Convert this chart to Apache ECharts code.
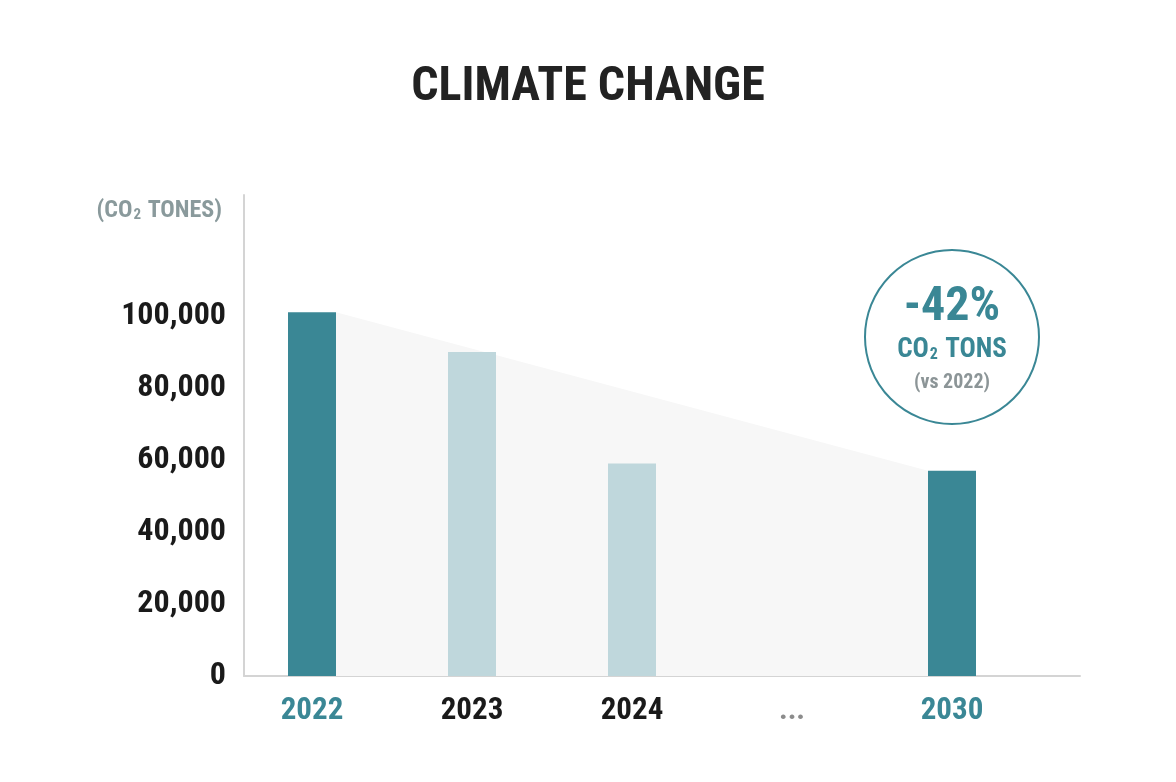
<!DOCTYPE html>
<html>
<head>
<meta charset="utf-8">
<script src="https://cdn.jsdelivr.net/npm/echarts@6/dist/echarts.min.js"></script>
<style>html,body{margin:0;padding:0;background:#fff;}#c{width:1176px;height:782px;}</style>
</head>
<body>
<div id="c"></div>
<script>
const categories = ['2022', '2023', '2024', '...', '2030'];
const values = [101000, 90000, 59000, null, 57000];
const yTicks = [0, 20000, 40000, 60000, 80000, 100000];
const highlight = [true, false, false, false, true];
const changeLabel = '-42%';
const changeBase = '2022';

const FONT = "'Roboto Condensed', 'Liberation Sans Narrow', 'Arial Narrow', Roboto, sans-serif";
const DARK = '#3a8795';
const LIGHT = '#bfd7dc';
const labelColors = ['#3a8795', '#1a1a1a', '#1a1a1a', '#8c8c8c', '#3a8795'];
const BAR_W = 48, BAND = 160;
const half = BAR_W / BAND / 2;

const barData = values.map((v, i) => v == null ? null : [i, v]);
const first = 0, last = values.length - 1;
const shadeData = [[first + half, values[first]], [last - half, values[last]]];

const chart = echarts.init(document.getElementById('c'), null, {renderer: 'canvas'});
chart.setOption({
  backgroundColor: '#ffffff',
  animation: false,
  title: {
    text: 'CLIMATE CHANGE', left: 'center', top: 59,
    textStyle: {fontFamily: FONT, fontSize: 48, fontWeight: 'bold', color: '#222222'}
  },
  grid: {left: 244, right: 96, top: 195, bottom: 106},
  xAxis: {
    type: 'value', min: -0.425, max: 4.8,
    axisLine: {show: true, onZero: false, lineStyle: {color: '#d4d4d4', width: 2}},
    axisTick: {show: false}, splitLine: {show: false},
    axisLabel: {
      customValues: categories.map((c, i) => i),
      margin: 20,
      formatter: v => '{c' + v + '|' + categories[v] + '}',
      rich: Object.fromEntries(categories.map((c, i) => ['c' + i, {
        fontFamily: FONT, fontWeight: 'bold', fontSize: c === '...' ? 30 : 31, color: labelColors[i]
      }]))
    }
  },
  yAxis: {
    type: 'value', min: 0, max: 133600, interval: 20000,
    name: '{a|(CO}{s|2}{a| TONES)}',
    nameLocation: 'end', nameGap: -16,
    nameTextStyle: {align: 'right', verticalAlign: 'middle', padding: [0, 22, 0, 0],
      rich: {
        a: {fontFamily: FONT, fontWeight: 'bold', fontSize: 24, color: '#8a9a9c'},
        s: {fontFamily: FONT, fontWeight: 'bold', fontSize: 15, color: '#8a9a9c', padding: [8, 1, 0, 1]}
      }},
    axisLine: {show: true, onZero: false, lineStyle: {color: '#d4d4d4', width: 2}},
    axisTick: {show: false}, splitLine: {show: false},
    axisLabel: {
      customValues: yTicks, margin: 18,
      formatter: v => v.toLocaleString('en-US'),
      fontFamily: FONT, fontWeight: 'bold', fontSize: 32, color: '#1a1a1a'
    }
  },
  series: [
    {
      type: 'line', data: shadeData, symbol: 'none', z: 1,
      lineStyle: {width: 0, color: '#f7f7f7'},
      areaStyle: {color: '#f7f7f7', opacity: 1}
    },
    {
      type: 'bar', data: barData, barWidth: BAR_W, z: 2,
      itemStyle: {color: p => highlight[p.dataIndex] ? DARK : LIGHT}
    }
  ],
  graphic: [{
    type: 'group', left: 864, top: 249,
    children: [
      {type: 'circle', shape: {cx: 88, cy: 87, r: 87}, style: {fill: '#fff', stroke: DARK, lineWidth: 2}},
      {type: 'text', x: 88, y: 58, style: {text: changeLabel, fill: DARK, font: 'bold 48px ' + FONT, textAlign: 'center', textVerticalAlign: 'middle'}},
      {type: 'text', x: 88, y: 100, style: {
        text: '{a|CO}{s|2}{a| TONS}', textAlign: 'center', textVerticalAlign: 'middle',
        rich: {
          a: {fontFamily: FONT, fontWeight: 'bold', fontSize: 27, fill: DARK, color: DARK},
          s: {fontFamily: FONT, fontWeight: 'bold', fontSize: 16, fill: DARK, color: DARK, padding: [10, 1, 0, 1]}
        }}},
      {type: 'text', x: 88, y: 133, style: {text: '(vs ' + changeBase + ')', fill: '#8c9597', font: 'bold 20px ' + FONT, textAlign: 'center', textVerticalAlign: 'middle'}}
    ]
  }]
});
</script>
</body>
</html>
